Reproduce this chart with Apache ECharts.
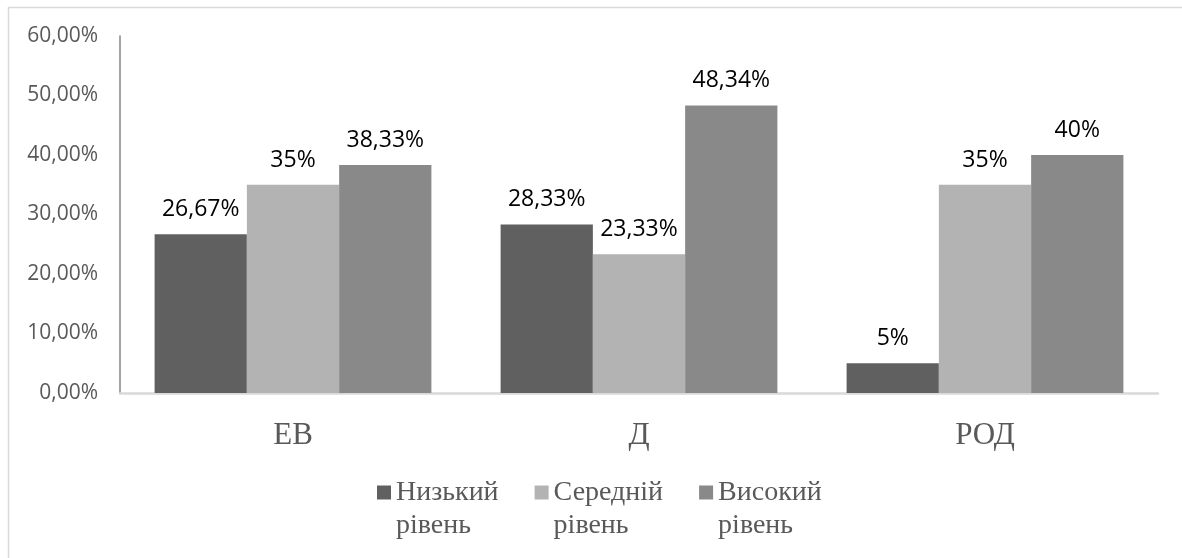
<!DOCTYPE html>
<html>
<head>
<meta charset="utf-8">
<script src="https://cdn.jsdelivr.net/npm/echarts@6/dist/echarts.min.js"></script>
<style>html,body{margin:0;padding:0;background:#fff;}#c{width:1182px;height:558px;}</style>
</head>
<body>
<div id="c"></div>
<script>
const categories = ['ЕВ', 'Д', 'РОД'];
const seriesNames = ['Низький\nрівень', 'Середній\nрівень', 'Високий\nрівень'];
const lowValues = [26.67, 28.33, 5];
const midValues = [35, 23.33, 35];
const highValues = [38.33, 48.34, 40];
const colors = ['#606060', '#b3b3b3', '#898989'];

const fmtLabel = v => (Number.isInteger(v) ? String(v) : v.toFixed(2).replace('.', ',')) + '%';
const fmtTick = v => v.toFixed(2).replace('.', ',') + '%';

const chart = echarts.init(document.getElementById('c'), null, {renderer: 'canvas'});
const mk = (name, data, color) => ({
  name, type: 'bar', data, barGap: '0%', barCategoryGap: '20%',
  itemStyle: {color},
  label: {show: true, position: 'top', distance: 13, formatter: p => fmtLabel(p.value),
    fontFamily: 'Open Sans', fontSize: 23, color: '#000'}
});
chart.setOption({
  animation: false,
  graphic: [{type: 'rect', silent: true, z: -1, shape: {x: 8.5, y: 7.5, width: 3000, height: 3000},
    style: {fill: 'none', stroke: '#d9d9d9', lineWidth: 1.5}}],
  grid: {left: 120, right: 24, top: 36, bottom: 165},
  xAxis: {type: 'category', data: categories,
    axisLine: {lineStyle: {color: '#d9d9d9', width: 2.5}}, axisTick: {show: false},
    axisLabel: {fontFamily: 'Liberation Serif', fontSize: 31, color: '#595959', margin: 27}},
  yAxis: {type: 'value', min: 0, max: 60, interval: 10, splitLine: {show: false},
    axisLine: {show: true, lineStyle: {color: '#868686', width: 1.5}}, axisTick: {show: false},
    axisLabel: {formatter: fmtTick, fontFamily: 'Open Sans', fontSize: 21, color: '#595959', margin: 22}},
  legend: {left: 377, top: 443, padding: 0, itemWidth: 14, itemHeight: 14, itemGap: 36, icon: 'rect',
    formatter: n => '\n' + n,
    textStyle: {fontFamily: 'Liberation Serif', fontSize: 28, color: '#595959', lineHeight: 33}},
  series: [mk(seriesNames[0], lowValues, colors[0]), mk(seriesNames[1], midValues, colors[1]), mk(seriesNames[2], highValues, colors[2])]
});
</script>
</body>
</html>
